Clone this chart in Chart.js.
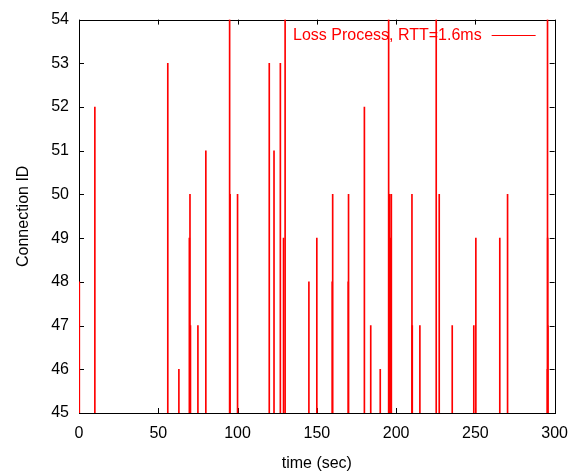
<!DOCTYPE html>
<html>
<head>
<meta charset="utf-8">
<script src="https://cdn.jsdelivr.net/npm/chart.js@4/dist/chart.umd.min.js"></script>
<style>
  html, body { margin: 0; padding: 0; background: #fff; }
  #wrap { width: 579px; height: 473px; position: relative; }
</style>
</head>
<body>
<div id="wrap"><canvas id="c" width="579" height="473"></canvas></div>
<script>
// Data (time in sec, connection ID of each loss)
const lossTimes = [0.2, 10, 56, 63, 70, 69.6, 70.3, 75, 80, 95, 95.3, 100, 120, 123, 127, 129, 130,
                   145, 150, 160, 159.7, 170, 169.8, 180, 184, 190, 195.3, 196, 196.5, 197,
                   210, 210.2, 215, 225.3, 227.2, 235.4, 249, 250.3, 265.4, 270.3,
                   295.5, 295.6, 295.7, 295.4];
const lossIds   = [48, 52, 53, 46, 50, 49, 47, 47, 51, 54, 50, 50, 53, 51, 53, 49, 54,
                   48, 49, 50, 48, 50, 48, 52, 47, 46, 54, 50, 49, 50,
                   50, 47, 47, 54, 50, 47, 47, 49, 49, 50,
                   54, 49, 47, 46];
const baseId = 45;
const xTicks = [0, 50, 100, 150, 200, 250, 300];
const yTicks = [45, 46, 47, 48, 49, 50, 51, 52, 53, 54];
const seriesLabel = 'Loss Process, RTT=1.6ms';

const FONT = '"Liberation Sans", Arial, sans-serif';
const FS = 16;

const points = lossTimes.map((t, i) => ({ x: t, y: [baseId, lossIds[i]] }));

const framePlugin = {
  id: 'frame',
  beforeDatasetsDraw(chart) {
    const { ctx, chartArea: a, scales: { x, y } } = chart;
    ctx.save();
    ctx.strokeStyle = '#000';
    ctx.lineWidth = 1;
    ctx.beginPath();
    const L = 5;
    xTicks.forEach(v => {
      const px = Math.round(x.getPixelForValue(v)) + 0.5;
      ctx.moveTo(px, a.bottom); ctx.lineTo(px, a.bottom - L);
      ctx.moveTo(px, a.top); ctx.lineTo(px, a.top + L);
    });
    yTicks.forEach(v => {
      const py = Math.round(y.getPixelForValue(v)) + 0.5;
      ctx.moveTo(a.left, py); ctx.lineTo(a.left + L, py);
      ctx.moveTo(a.right, py); ctx.lineTo(a.right - L, py);
    });
    ctx.stroke();
    ctx.strokeRect(Math.round(a.left) + 0.5, Math.round(a.top) + 0.5,
                   Math.round(a.right - a.left), Math.round(a.bottom - a.top));
    ctx.restore();
  },
  afterDatasetsDraw(chart) {
    const { ctx, chartArea: a } = chart;
    ctx.save();
    // key (gnuplot style: text, then line sample), placed in the top-right of the plot
    const lineRight = a.right - 19, lineLeft = lineRight - 44;
    const ky = a.top + 15.5;
    ctx.font = FS + 'px ' + FONT;
    ctx.fillStyle = '#ff0000';
    ctx.textAlign = 'right';
    ctx.textBaseline = 'middle';
    ctx.fillText(seriesLabel, lineLeft - 10, ky);
    ctx.strokeStyle = '#ff0000';
    ctx.lineWidth = 1;
    ctx.beginPath();
    ctx.moveTo(lineLeft, Math.round(ky) + 0.5);
    ctx.lineTo(lineRight, Math.round(ky) + 0.5);
    ctx.stroke();
    ctx.restore();
  }
};

new Chart(document.getElementById('c'), {
  type: 'bar',
  data: {
    datasets: [{
      label: seriesLabel,
      data: points,
      backgroundColor: '#ff0000',
      borderWidth: 0,
      barThickness: 1,
      grouped: false
    }]
  },
  options: {
    responsive: false,
    animation: false,
    devicePixelRatio: 1,
    layout: { padding: { top: 14, right: 23, left: 0, bottom: 0 } },
    plugins: {
      tooltip: { enabled: false },
      legend: { display: false }
    },
    scales: {
      x: {
        type: 'linear',
        offset: false,
        min: 0, max: 300,
        afterFit: s => { s.height = 60; },
        afterBuildTicks: s => { s.ticks = xTicks.map(v => ({ value: v })); },
        grid: { display: false, drawTicks: false, offset: false },
        border: { display: false },
        ticks: { font: { family: FONT, size: FS }, color: '#000', padding: 11, maxRotation: 0 },
        title: { display: true, text: 'time (sec)', font: { family: FONT, size: FS }, color: '#000', padding: { top: 0, bottom: 0 } }
      },
      y: {
        type: 'linear',
        min: 45, max: 54,
        afterFit: s => { s.width = 79; },
        afterBuildTicks: s => { s.ticks = yTicks.map(v => ({ value: v })); },
        grid: { display: false, drawTicks: false },
        border: { display: false },
        ticks: { font: { family: FONT, size: FS }, color: '#000', padding: 10 },
        title: { display: true, text: 'Connection ID', font: { family: FONT, size: FS }, color: '#000', padding: { top: 14, bottom: 0 } }
      }
    }
  },
  plugins: [framePlugin]
});
</script>
</body>
</html>
